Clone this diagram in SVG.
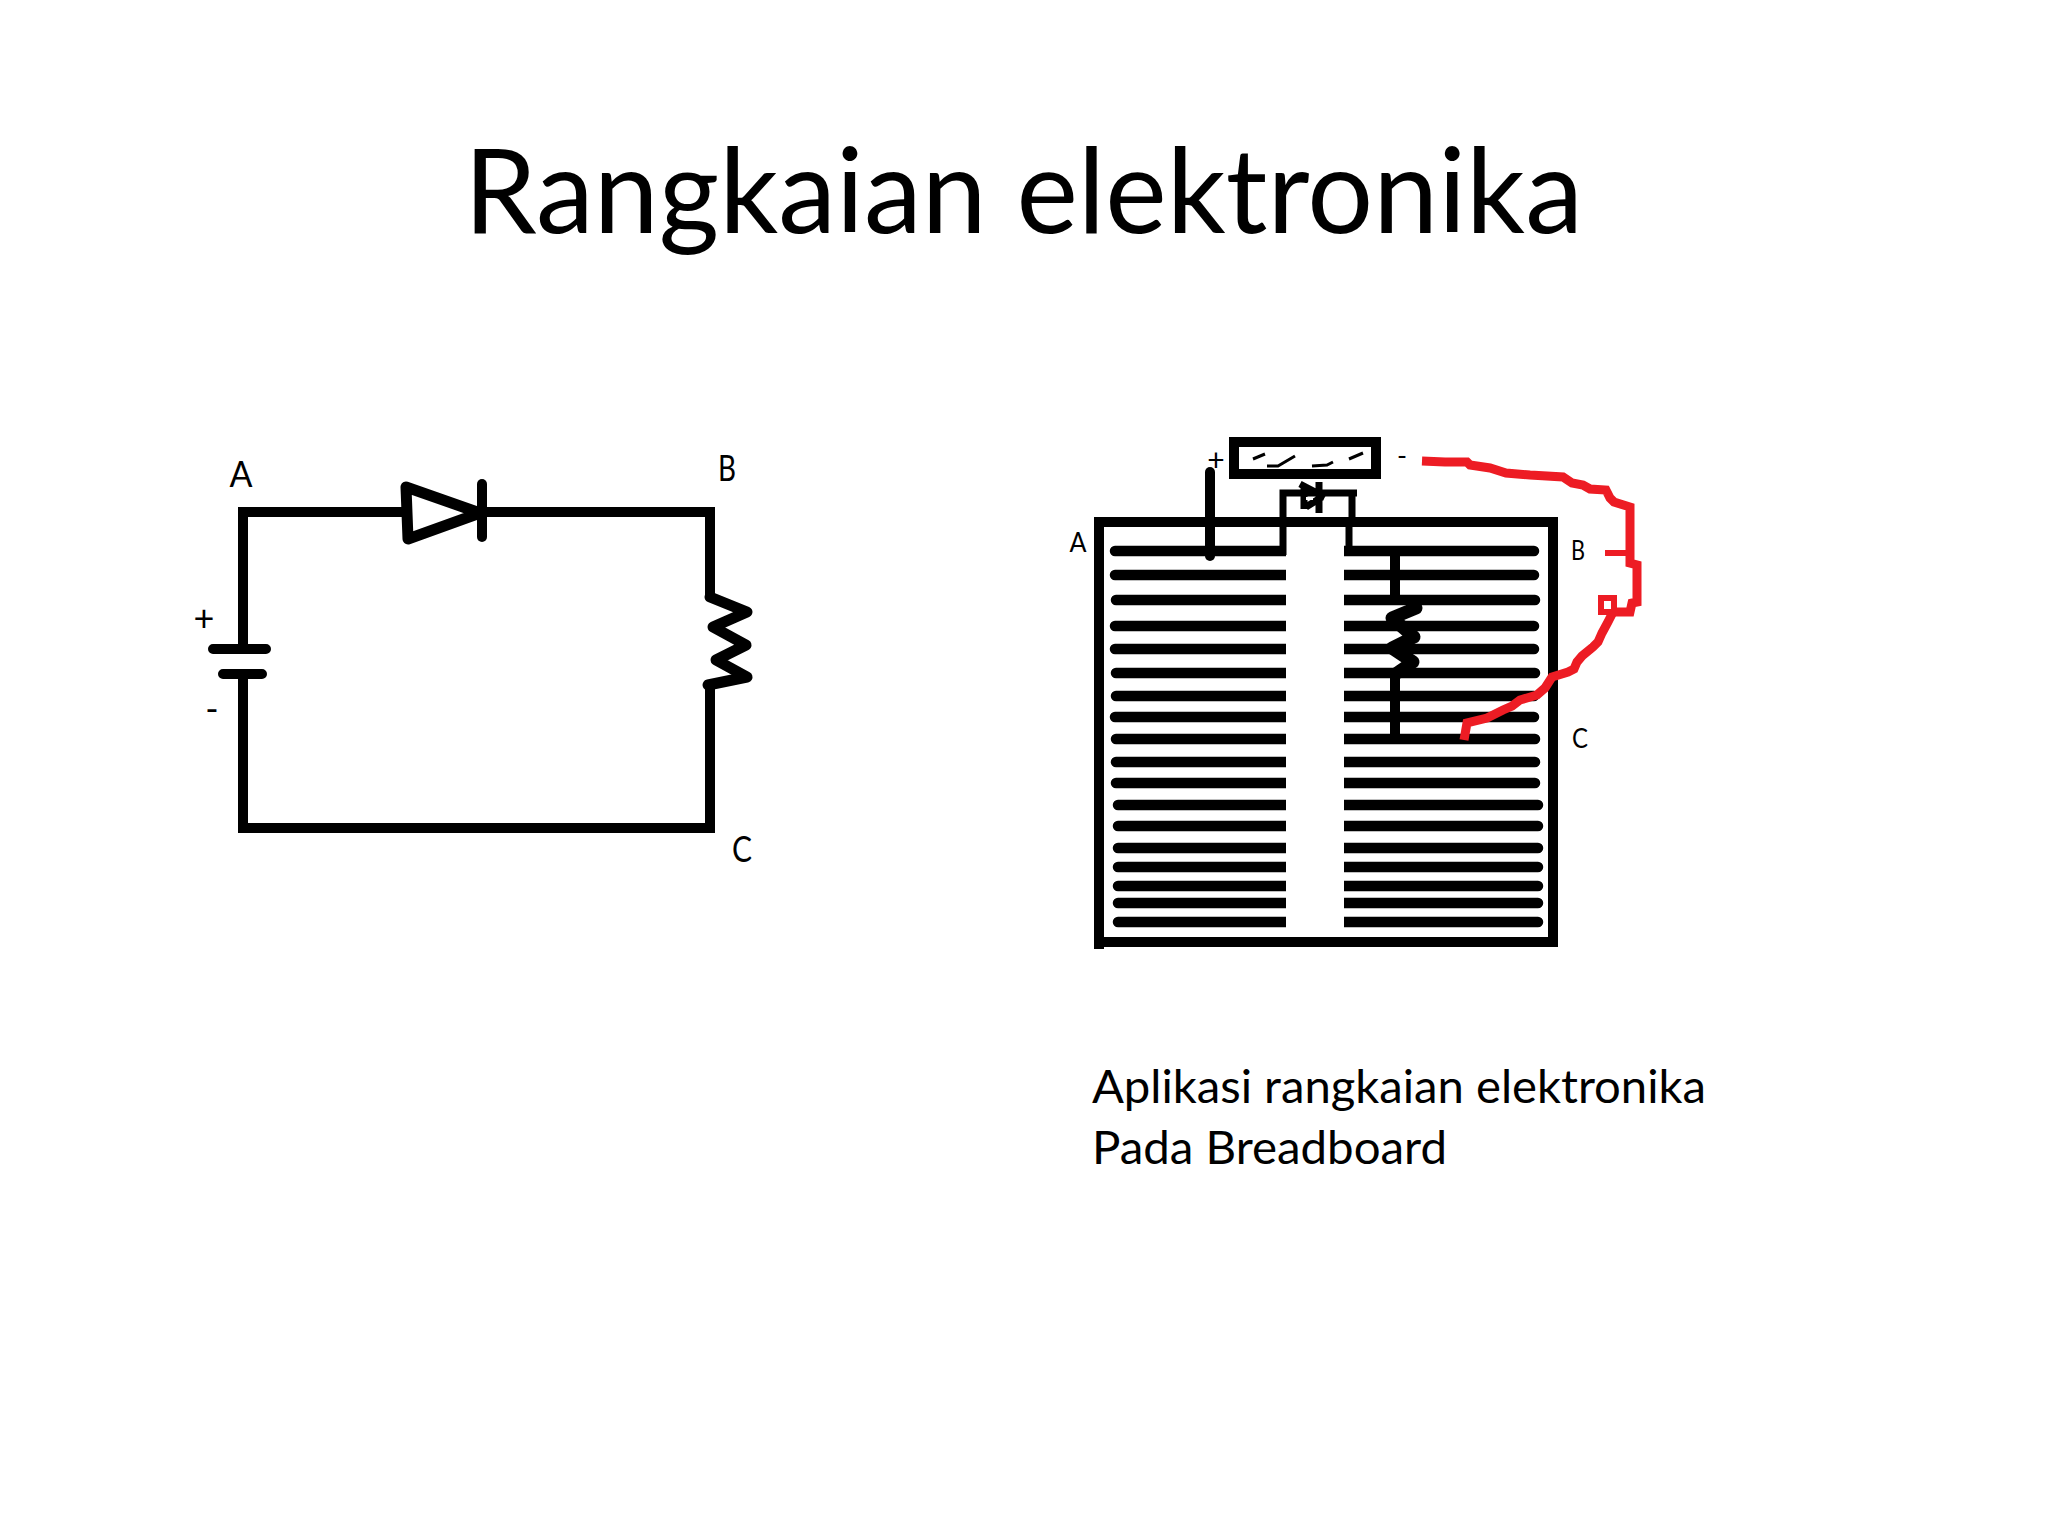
<svg xmlns="http://www.w3.org/2000/svg" width="2048" height="1536" viewBox="0 0 2048 1536">
<style>
text{font-family:"Lato","Liberation Sans",sans-serif;fill:#000}
.w{fill:none;stroke:#000;stroke-width:10;stroke-linejoin:miter}
.r{stroke-linecap:round;stroke-linejoin:round}
.l{font-size:36px;text-anchor:middle}
.s{font-size:27px;text-anchor:middle}
.red{fill:none;stroke:#ed1c24;stroke-width:9;stroke-linejoin:miter}
.rows{fill:none;stroke:#000;stroke-width:10.5;stroke-linecap:round}
</style>
<defs>
<clipPath id="colL"><rect x="1100" y="530" width="186" height="410"/></clipPath>
<clipPath id="colR"><rect x="1344" y="530" width="205" height="410"/></clipPath>
</defs>
<rect width="2048" height="1536" fill="#fff"/>
<text id="title" x="464" y="233" font-size="118" textLength="1119" lengthAdjust="spacingAndGlyphs">Rangkaian elektronika</text>

<g id="schematic-connectors">
<path class="w" d="M243 647V512H408M480 512H710V597"/>
<path class="w" d="M243 674V828H710V685"/>
</g>
<g id="schematic-battery">
<path class="w r" d="M213 649H266M223 674H262"/>
</g>
<g id="schematic-diode">
<path class="w r" style="stroke-width:11" d="M406 487L408 539L480 513Z"/>
<path class="w r" d="M482 484V537"/>
</g>
<g id="schematic-resistor">
<path class="w r" style="stroke-width:11" d="M710 597L747 612L713 627L746 645L716 660L747 677L708 685"/>
</g>
<g id="schematic-labels">
<text class="l" x="241" y="487" textLength="23" lengthAdjust="spacingAndGlyphs">A</text>
<text class="l" x="727" y="481" textLength="18" lengthAdjust="spacingAndGlyphs">B</text>
<text class="l" x="742" y="862" textLength="20" lengthAdjust="spacingAndGlyphs">C</text>
<text class="l" x="204" y="631">+</text>
<text class="l" x="212" y="722">-</text>
</g>

<g id="breadboard">
<path class="w" d="M1099 949V522H1553V942H1099"/>
<path class="rows" clip-path="url(#colL)" d="M1115 551H1300M1115 575H1300M1116 600H1300M1115 626H1300M1115 649H1300M1116 673H1300M1116 696H1300M1115 717H1300M1116 739H1300M1116 762H1300M1116 783H1300M1118 805H1300M1118 826H1300M1118 848H1300M1118 867H1300M1118 886H1300M1118 903H1300M1118 922H1300"/>
<path class="rows" clip-path="url(#colR)" d="M1330 551H1534M1330 575H1534M1330 600H1535M1330 626H1534M1330 649H1534M1330 673H1535M1330 696H1534M1330 717H1534M1330 739H1535M1330 762H1535M1330 783H1535M1330 805H1538M1330 826H1538M1330 848H1538M1330 867H1538M1330 886H1538M1330 903H1538M1330 922H1538"/>
</g>
<g id="meter">
<rect x="1234" y="442" width="142" height="32" fill="#fff" stroke="#000" stroke-width="10"/>
<path fill="none" stroke="#000" stroke-width="3" d="M1253 459L1265 454M1267 466H1278L1295 456M1312 466L1327 465L1333 462M1349 459L1363 453"/>
</g>
<g id="board-connectors">
<path class="w r" d="M1210 472V556"/>
<path fill="none" stroke="#000" stroke-width="7" d="M1283 555V493H1357M1352 493V520M1349 527V555"/>
<path fill="none" stroke="#000" stroke-width="10" d="M1395 551V600M1395 673V739"/>
</g>
<g id="board-diode">
<path fill="none" stroke="#000" stroke-width="7" d="M1300 484L1325 497M1304 484V509M1319 482V513M1306 507L1322 497"/>
<rect x="1306" y="497" width="7" height="3" fill="#fff"/>
</g>
<g id="board-resistor">
<path class="w r" style="stroke-width:13" d="M1416 608L1392 618L1414 637L1392 648L1413 662L1397 673"/>
</g>
<g id="red-wire">
<path class="red" d="M1422 461L1445 462L1467 462L1470 465L1490 468L1506 473L1530 475L1563 477L1572 483L1583 485L1590 489L1606 490L1610 498L1614 502L1630 507V563L1637 565V602L1632 603L1630 612H1614"/>
<path class="red" style="stroke-width:6" d="M1605 553H1633"/>
<rect x="1601" y="598" width="13" height="14" fill="#fff" stroke="#ed1c24" stroke-width="6"/>
<path class="red" d="M1612 614L1608 622L1602 633L1598 642L1593 647L1582 656L1577 662L1574 669L1568 672L1552 677L1545 688L1537 695L1520 700L1512 706L1503 710L1487 718L1467 723L1464 740"/>
</g>
<g id="board-labels">
<text class="s" x="1078" y="552" textLength="17" lengthAdjust="spacingAndGlyphs">A</text>
<text class="s" x="1578" y="560" textLength="14" lengthAdjust="spacingAndGlyphs">B</text>
<text class="s" x="1580" y="748" textLength="16" lengthAdjust="spacingAndGlyphs">C</text>
<text class="s" x="1216" y="471" style="font-size:30px">+</text>
<text class="s" x="1402" y="465">-</text>
</g>
<g id="caption">
<text x="1092" y="1103" font-size="47" textLength="614" lengthAdjust="spacingAndGlyphs">Aplikasi rangkaian elektronika</text>
<text x="1092" y="1164" font-size="47" textLength="355" lengthAdjust="spacingAndGlyphs">Pada Breadboard</text>
</g>
</svg>
